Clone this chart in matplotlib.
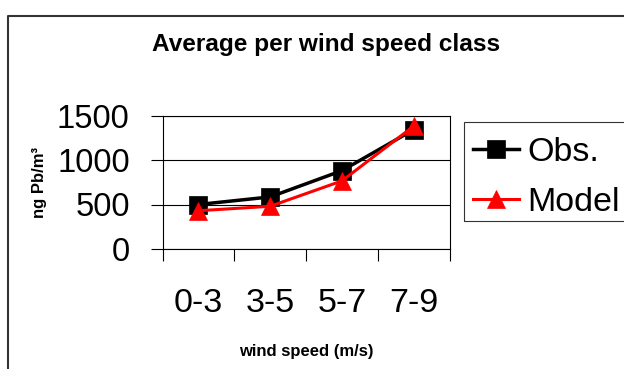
import numpy as np
import matplotlib.pyplot as plt
from matplotlib.lines import Line2D
from matplotlib.patches import Rectangle
from matplotlib.ticker import FixedLocator, NullFormatter

plt.rcParams['font.family'] = ['Liberation Sans', 'DejaVu Sans']

# averages per wind speed class (ng Pb/m3)
classes = ['0-3', '3-5', '5-7', '7-9']
obs = [500, 585, 880, 1340]
model = [430, 480, 765, 1380]

W, H = 624, 369
fig = plt.figure(figsize=(W / 100, H / 100), dpi=100)

# outer chart frame (left and top edge only, the rest is cut off)
fx, fy = 7.5 / W, 1 - 15.5 / H
fig.lines.append(Line2D([fx, fx, 1.0], [0.0, fy, fy], transform=fig.transFigure,
                        color='#333333', lw=1.5))

ax = fig.add_axes([162.5 / W, 1 - 249 / H, 287 / W, 133.5 / H])
x = np.arange(len(classes))

ax.plot(x, obs, color='black', lw=2.5, marker='s', ms=13.5,
        mec='black', mew=0.5, label='Obs.', zorder=3)
ax.plot(x, model, color='red', lw=2.2, marker='^', ms=13,
        mec='red', mew=0.5, label='Model', zorder=4)

ax.set_xlim(-0.5, 3.5)
ax.set_ylim(0, 1500)
ax.set_yticks([0, 500, 1000, 1500])
ax.yaxis.grid(True, color='black', lw=0.8)
ax.set_axisbelow(True)
for s in ax.spines.values():
    s.set_linewidth(0.8)

# category boundaries as ticks, labels in between
ax.xaxis.set_major_locator(FixedLocator([-0.5, 0.5, 1.5, 2.5, 3.5]))
ax.xaxis.set_major_formatter(NullFormatter())
ax.xaxis.set_minor_locator(FixedLocator(x))
ax.set_xticklabels(classes, minor=True, fontsize=24.5)
ax.tick_params(axis='x', which='major', direction='out', length=8.6, width=0.8)
ax.tick_params(axis='x', which='minor', length=0, pad=28)
ax.tick_params(axis='y', direction='out', length=8.6, width=0.8, pad=15,
               labelsize=23.5)

ax.set_xlabel('wind speed (m/s)', fontsize=12, fontweight='bold', labelpad=18)
ax.set_ylabel('ng Pb/m³', fontsize=12, fontweight='bold', labelpad=7)

fig.text(326 / W, 1 - 44 / H, 'Average per wind speed class', ha='center',
         va='center', fontsize=17.6, fontweight='bold')

# legend box drawn separately, it runs past the right edge
fig.patches.append(Rectangle((464 / W, 1 - 221 / H), 0.5, 99 / H,
                             transform=fig.transFigure, fill=False,
                             edgecolor='#333333', linewidth=0.8))
leg = ax.legend(loc='upper left', bbox_to_anchor=(464 / W, 1 - 128 / H),
                bbox_transform=fig.transFigure, borderaxespad=0, fontsize=24.5,
                frameon=False, handlelength=1.38, handletextpad=0.24,
                borderpad=0.25, labelspacing=0.58)

fig.savefig('out.png', dpi=100)
